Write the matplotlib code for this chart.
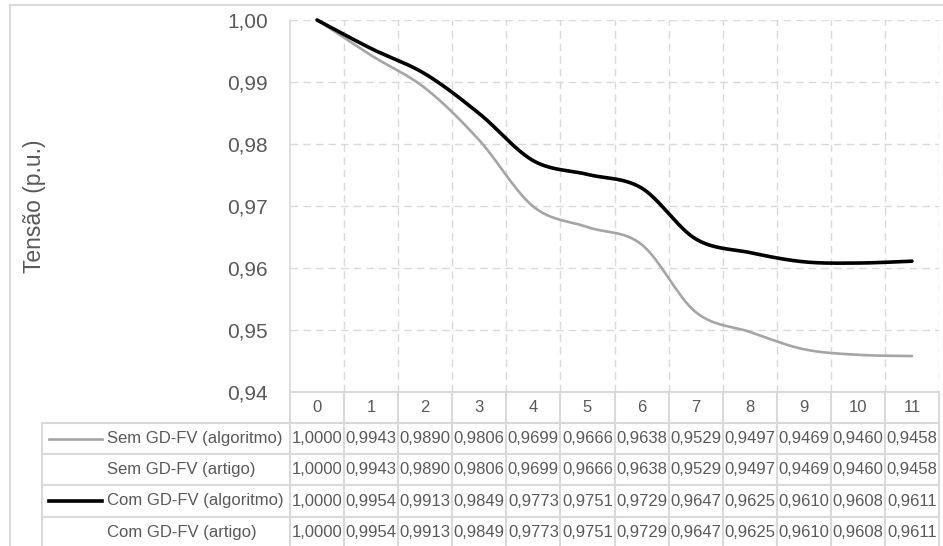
import matplotlib
matplotlib.use('Agg')
import matplotlib.pyplot as plt
import matplotlib.transforms as mtransforms
from matplotlib.lines import Line2D
import numpy as np

plt.rcParams['font.family'] = ['Liberation Sans', 'DejaVu Sans']

# Data from the table
categories = ['0', '1', '2', '3', '4', '5', '6', '7', '8', '9', '10', '11']
sem_alg = [1.0000, 0.9943, 0.9890, 0.9806, 0.9699, 0.9666, 0.9638, 0.9529, 0.9497, 0.9469, 0.9460, 0.9458]
sem_art = [1.0000, 0.9943, 0.9890, 0.9806, 0.9699, 0.9666, 0.9638, 0.9529, 0.9497, 0.9469, 0.9460, 0.9458]
com_alg = [1.0000, 0.9954, 0.9913, 0.9849, 0.9773, 0.9751, 0.9729, 0.9647, 0.9625, 0.9610, 0.9608, 0.9611]
com_art = [1.0000, 0.9954, 0.9913, 0.9849, 0.9773, 0.9751, 0.9729, 0.9647, 0.9625, 0.9610, 0.9608, 0.9611]
row_labels = ['Sem GD-FV (algoritmo)', 'Sem GD-FV (artigo)', 'Com GD-FV (algoritmo)', 'Com GD-FV (artigo)']

W, H = 943, 546
TXT = '#595959'
GRID = '#D9D9D9'
GRAY = '#A5A5A5'


def fx(px):
    return px / W


def fy(py):
    return 1 - py / H


def smooth(y, n=20):
    # Excel-like smoothed line (cardinal bezier between points)
    p = np.column_stack([np.arange(len(y)), np.asarray(y, float)])
    pp = np.vstack([p[0], p, p[-1]])
    out = []
    t = np.linspace(0, 1, n)[:, None]
    for i in range(len(p) - 1):
        p0, p1, p2, p3 = pp[i], pp[i + 1], pp[i + 2], pp[i + 3]
        c1 = p1 + (p2 - p0) / 6
        c2 = p2 - (p3 - p1) / 6
        seg = ((1 - t) ** 3) * p1 + 3 * ((1 - t) ** 2) * t * c1 + 3 * (1 - t) * t ** 2 * c2 + t ** 3 * p2
        out.append(seg if i == 0 else seg[1:])
    s = np.vstack(out)
    return s[:, 0], s[:, 1]


fig = plt.figure(figsize=(W / 100, H / 100), dpi=100)
left, right, top, bottom = 290, 939, 20, 392
ax = fig.add_axes([fx(left), fy(bottom), fx(right - left), (bottom - top) / H])

n = len(categories)
ax.set_xlim(-0.5, n - 0.5)
ax.set_ylim(0.94, 1.00)
ax.set_yticks(np.arange(0.94, 1.0001, 0.01))
ax.set_yticklabels([f'{v:.2f}'.replace('.', ',') for v in np.arange(0.94, 1.0001, 0.01)])
ax.set_xticks([])
ax.tick_params(axis='y', length=0, pad=16, labelsize=15, labelcolor=TXT)

# grid
for v in np.arange(0.95, 1.0001, 0.01):
    ax.axhline(v, color=GRID, lw=1.0, ls=(0, (5.5, 3.6)), zorder=0)
for k in range(1, n + 1):
    ax.axvline(k - 0.5, color=GRID, lw=1.0, ls=(0, (5.5, 3.6)), zorder=0)
for s in ['top', 'right', 'bottom']:
    ax.spines[s].set_visible(False)
ax.spines['left'].set_color(GRID)
ax.spines['left'].set_linewidth(1.2)

xs, ys = smooth(sem_alg)
ax.plot(xs, ys, color=GRAY, lw=1.9, solid_capstyle='round', clip_on=False)
xs, ys = smooth(com_alg)
ax.plot(xs, ys, color='black', lw=2.6, solid_capstyle='round', clip_on=False)

fig.text(fx(34), fy(206), 'Tensão (p.u.)', rotation=90, ha='center', va='center', fontsize=16.5, color=TXT)

# outer chart border
fig.add_artist(Line2D([fx(10), fx(10)], [fy(5), fy(H + 5)], color=GRID, lw=1.5, transform=fig.transFigure))
fig.add_artist(Line2D([fx(10), fx(W + 5)], [fy(5), fy(5)], color=GRID, lw=1.5, transform=fig.transFigure))

# data table
blend = mtransforms.blended_transform_factory(ax.transData, fig.transFigure)
row_top = [392, 423, 454, 485, 517, 548]
tab_left = 42

fig.add_artist(Line2D([fx(left), fx(right)], [fy(392), fy(392)], color=GRID, lw=1.5, transform=fig.transFigure))
for yl in row_top[1:]:
    fig.add_artist(Line2D([fx(tab_left), fx(right)], [fy(yl), fy(yl)], color=GRID, lw=1.5, transform=fig.transFigure))
for k in range(n + 1):
    fig.add_artist(Line2D([k - 0.5, k - 0.5], [fy(392), fy(H + 5)], color=GRID, lw=1.5, transform=blend))
fig.add_artist(Line2D([fx(tab_left), fx(tab_left)], [fy(423), fy(H + 5)], color=GRID, lw=1.5, transform=fig.transFigure))

hy = (row_top[0] + row_top[1]) / 2
for i, c in enumerate(categories):
    fig.text(i, fy(hy), c, transform=blend, ha='center', va='center', fontsize=12, color=TXT)

rows = [sem_alg, sem_art, com_alg, com_art]
keys = [(GRAY, 1.9), None, ('black', 2.6), None]
for r, (lab, vals, key) in enumerate(zip(row_labels, rows, keys)):
    yc = (row_top[r + 1] + row_top[r + 2]) / 2
    fig.text(fx(107), fy(yc), lab, ha='left', va='center', fontsize=12, color=TXT)
    if key is not None:
        fig.add_artist(Line2D([fx(49), fx(102)], [fy(yc), fy(yc)], color=key[0], lw=key[1],
                              transform=fig.transFigure))
    for i, v in enumerate(vals):
        fig.text(i, fy(yc), f'{v:.4f}'.replace('.', ','), transform=blend,
                 ha='center', va='center', fontsize=12, color=TXT)

fig.savefig('out.png', dpi=100)
